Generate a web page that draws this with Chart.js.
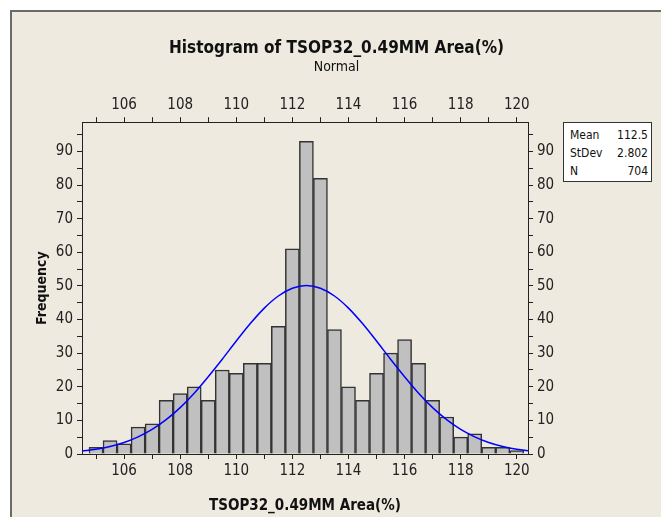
<!DOCTYPE html>
<html>
<head>
<meta charset="utf-8">
<script src="https://cdn.jsdelivr.net/npm/chart.js@4.4.1/dist/chart.umd.min.js"></script>
<style>
  html, body { margin: 0; padding: 0; background: #fff; }
  body { width: 661px; height: 517px; position: relative; overflow: hidden; }
  #frame {
    position: absolute; left: 10px; top: 10px; width: 700px; height: 600px;
    background: #eeeae0; border-left: 2px solid #6a6a6a; border-top: 2px solid #6a6a6a;
  }
  #wrap { position: absolute; left: 12px; top: 12px; width: 649px; height: 505px; }
  #stats {
    position: absolute; left: 563px; top: 122px; width: 89px; height: 60px;
    background: #fff; border: 1px solid #333; box-sizing: border-box;
    font-family: "DejaVu Sans Condensed", "Liberation Sans", sans-serif; font-size: 12px; color: #111;
  }
  #stats div { position: absolute; left: 6px; right: 3px; height: 18px; line-height: 18px; }
  #stats span { float: right; }
</style>
</head>
<body>
<div id="frame"></div>
<div id="wrap"><canvas id="histChart" width="649" height="505"></canvas></div>
<div id="stats">
  <div style="top:3px">Mean<span>112.5</span></div>
  <div style="top:21px">StDev<span>2.802</span></div>
  <div style="top:39px">N<span>704</span></div>
</div>
<script>
// ── Data ──────────────────────────────────────────────────────
const binCenters = [105, 105.5, 106, 106.5, 107, 107.5, 108, 108.5, 109, 109.5,
                    110, 110.5, 111, 111.5, 112, 112.5, 113, 113.5, 114, 114.5,
                    115, 115.5, 116, 116.5, 117, 117.5, 118, 118.5, 119, 119.5, 120];
const binCounts  = [2, 4, 3, 8, 9, 16, 18, 20, 16, 25,
                    24, 27, 27, 38, 61, 93, 82, 37, 20, 16,
                    24, 30, 34, 27, 16, 11, 5, 6, 2, 2, 1];

// fitted normal curve
const curveX = [104.5, 105, 105.5, 106, 106.5, 107, 107.5, 108, 108.5, 109, 109.5,
                110, 110.5, 111, 111.5, 112, 112.5, 113, 113.5, 114, 114.5,
                115, 115.5, 116, 116.5, 117, 117.5, 118, 118.5, 119, 119.5, 120, 120.5];
const curveY = [0.9, 1.4, 2.2, 3.4, 5.1, 7.3, 10.2, 13.8, 18.1, 23.0, 28.2,
                33.6, 38.8, 43.4, 47.0, 49.3, 50.1, 49.3, 47.0, 43.4, 38.8,
                33.6, 28.2, 23.0, 18.1, 13.8, 10.2, 7.3, 5.1, 3.4, 2.2, 1.4, 0.9];

const xLabelEvery = 2;
const yLabelEvery = 10;

// ── Shared styles ─────────────────────────────────────────────
const FONT  = '"DejaVu Sans Condensed", "Liberation Sans", sans-serif';
const INK   = '#222';
const tickFont = { family: FONT, size: 15 };

const xTicks = {
  stepSize: 1, includeBounds: false, autoSkip: false, maxRotation: 0,
  padding: 3, color: INK, font: tickFont,
  callback: v => (v % xLabelEvery === 0 ? String(v) : '')
};
const yTicks = {
  stepSize: 5, includeBounds: false, autoSkip: false,
  padding: 4, color: INK, font: tickFont,
  callback: v => (v % yLabelEvery === 0 ? String(v) : '')
};
const axisGrid = { drawOnChartArea: false, drawTicks: true, tickLength: 5, tickColor: INK, offset: false };
const axisBorder = { display: true, color: INK, width: 1 };

// ── Chart ─────────────────────────────────────────────────────
new Chart(document.getElementById('histChart'), {
  data: {
    datasets: [
      {
        type: 'line',
        data: curveX.map((x, i) => ({ x, y: curveY[i] })),
        borderColor: '#0000ff',
        borderWidth: 1.5,
        pointRadius: 0,
        cubicInterpolationMode: 'monotone',
        order: 0
      },
      {
        type: 'bar',
        data: binCenters.map((x, i) => ({ x, y: binCounts[i] })),
        backgroundColor: '#c0c0c0',
        borderColor: '#333',
        borderWidth: 1.5,
        barPercentage: 1,
        categoryPercentage: 1,
        order: 1
      }
    ]
  },
  options: {
    responsive: false,
    animation: false,
    devicePixelRatio: 1,
    layout: { padding: { top: 26, left: 0, right: 0, bottom: 2 } },
    plugins: {
      legend:  { display: false },
      tooltip: { enabled: false },
      title: {
        display: true, text: 'Histogram of TSOP32_0.49MM Area(%)', color: '#111',
        font: { family: FONT, size: 17, weight: 'bold' }, padding: { top: 0, bottom: 0 }
      },
      subtitle: {
        display: true, text: 'Normal', color: '#111',
        font: { family: FONT, size: 14 }, padding: { top: 1, bottom: 0 }
      }
    },
    scales: {
      x: {
        type: 'linear', position: 'bottom', min: 104.5, max: 120.4, offset: false,
        ticks: xTicks, grid: axisGrid, border: axisBorder,
        title: {
          display: true, text: 'TSOP32_0.49MM Area(%)', color: '#111',
          font: { family: FONT, size: 15, weight: 'bold' }, padding: 0
        },
        afterFit: s => { s.height = 61; }
      },
      x2: {
        type: 'linear', position: 'top', min: 104.5, max: 120.4, offset: false,
        ticks: xTicks, grid: axisGrid, border: axisBorder,
        afterFit: s => { s.height = 46; }
      },
      y: {
        type: 'linear', position: 'left', min: 0, max: 98.7,
        ticks: yTicks, grid: axisGrid, border: axisBorder,
        title: {
          display: true, text: 'Frequency', color: '#111',
          font: { family: FONT, size: 14, weight: 'bold' }, padding: { top: 22, bottom: 0 }
        },
        afterFit: s => { s.width = 70; }
      },
      y2: {
        type: 'linear', position: 'right', min: 0, max: 98.7,
        ticks: yTicks, grid: axisGrid, border: axisBorder,
        afterFit: s => { s.width = 133; }
      }
    }
  }
});
</script>
</body>
</html>
